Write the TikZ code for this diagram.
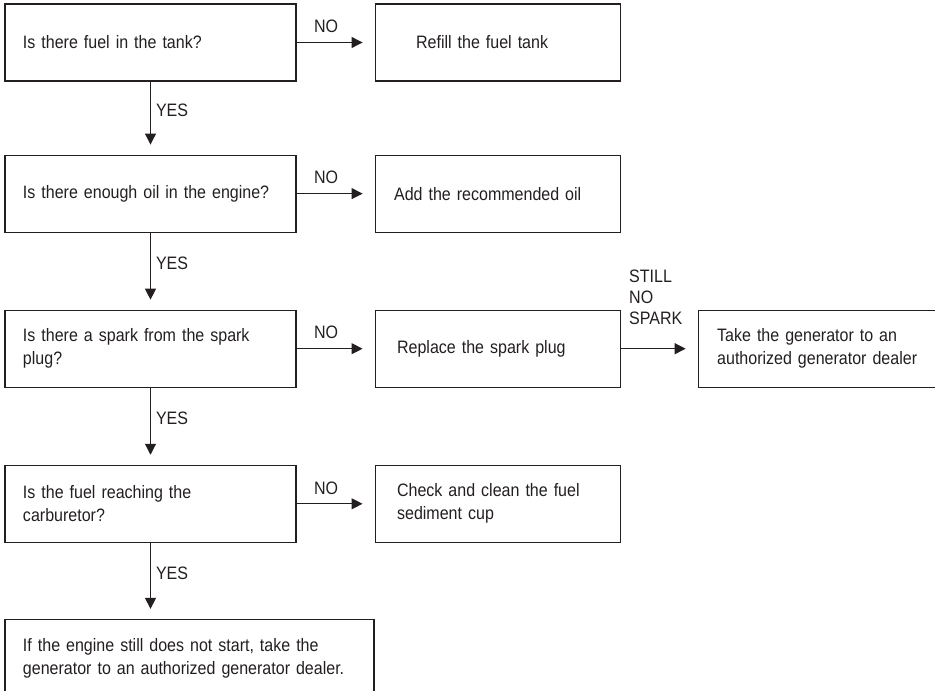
\documentclass[tikz,border=0pt]{standalone}
\usepackage{fontspec}
\setmainfont{Liberation Sans}[FakeStretch=0.89]
\usepackage{tikz}
\usetikzlibrary{arrows.meta,positioning}
\definecolor{ink}{RGB}{35,31,32}

\begin{document}
\begin{tikzpicture}[
    x=1pt, y=-1pt,
    node distance=77pt and 78pt,
    font=\fontsize{18}{23}\selectfont,
    every node/.style={text=ink},
    box/.style={rectangle, draw=ink, line width=1.1pt, align=left, minimum height=77pt, inner xsep=18pt, text width=255pt},
    ansbox/.style={box, inner xsep=22pt, text width=201pt},
    arrow/.style={-{Triangle[length=11pt,width=11pt]}, draw=ink, line width=1.1pt},
    down/.style={arrow, shorten >=10pt},
    side/.style={arrow, shorten >=12pt},
    yes/.style={right=5pt, pos=0.4, inner sep=0pt},
    no/.style={pos=0, anchor=south west, inner sep=0pt, xshift=17pt, yshift=9pt},
    still/.style={pos=0, anchor=south west, inner sep=0pt, xshift=8pt, yshift=23pt, align=left, font=\fontsize{18}{21}\selectfont}
]
\useasboundingbox (0,0) rectangle (935,691);

% Questions
\node[box] (fuel) at (150.5,42.5) {Is there fuel in the tank?};
\node[box, below=73pt of fuel] (oil) {Is there enough oil in the engine?};
\node[box, below=of oil] (spark) {Is there a spark from the spark\\plug?};
\node[box, below=of spark] (carb) {Is the fuel reaching the\\carburetor?};
\node[box, below=76pt of carb.south west, anchor=north west, text width=333pt] (dealer) {If the engine still does not start, take the\\generator to an authorized generator dealer.};

% Answers
\node[ansbox, right=of fuel, inner xsep=41pt, text width=163pt] (refill) {Refill the fuel tank};
\node[ansbox, right=of oil, inner xsep=19pt, text width=207pt] (addoil) {Add the recommended oil};
\node[ansbox, right=of spark] (plug) {Replace the spark plug};
\node[ansbox, right=of carb] (cup) {Check and clean the fuel\\sediment cup};
\node[box, right=77pt of plug, inner xsep=19pt, text width=212pt] (shop) {Take the generator to an\\authorized generator dealer};

% NO arrows
\draw[side] (fuel) -- node[no] {NO} (refill);
\draw[side] (oil) -- node[no] {NO} (addoil);
\draw[side] (spark) -- node[no] {NO} (plug);
\draw[side] (carb) -- node[no] {NO} (cup);
\draw[side] (plug) -- node[still] {STILL\\NO\\SPARK} (shop);

% YES arrows
\draw[down] (fuel) -- node[yes] {YES} (oil);
\draw[down] (oil) -- node[yes] {YES} (spark);
\draw[down] (spark) -- node[yes] {YES} (carb);
\draw[down] (carb) -- node[yes] {YES} (dealer.north -| carb.south);

\end{tikzpicture}
\end{document}
